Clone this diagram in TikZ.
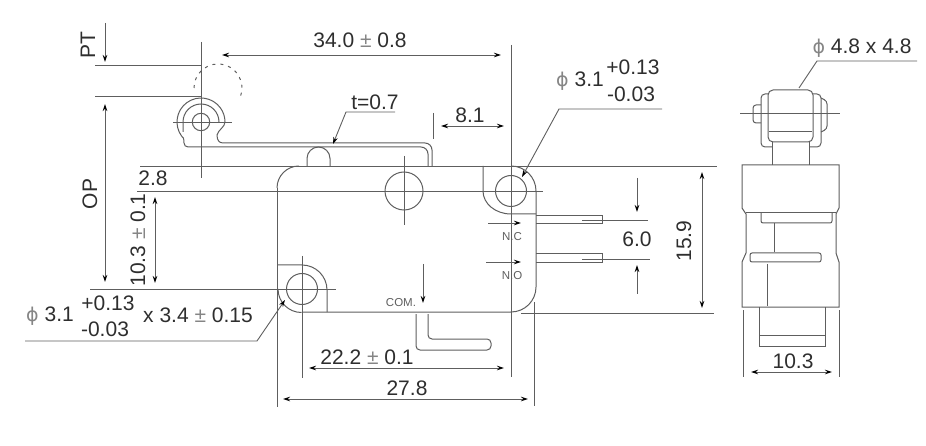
\documentclass[tikz,border=0pt]{standalone}
\usepackage{fontspec}
\setmainfont{Liberation Sans}
\newfontfamily\symbfont{DejaVu Sans}
\usetikzlibrary{arrows.meta}
\definecolor{inkline}{HTML}{5E5E5E}
\definecolor{inktext}{HTML}{2E2E2E}
\definecolor{inksymb}{HTML}{858585}
\newcommand{\plusminus}{\textcolor{inksymb}{±}}
\newcommand{\diam}{\textcolor{inksymb}{{\symbfont\fontsize{19}{19}\selectfont ϕ}}}
\tikzset{
  tipmark/.tip   = {Stealth[length=7pt,width=4.5pt,color=black]},
  part/.style    = {draw=inkline, line width=1pt},
  dimline/.style = {draw=inkline, line width=0.9pt},
  dimarrow/.style = {dimline, tipmark-tipmark},
  tiparrow/.style = {dimline, -tipmark},
  dimtext/.style = {text=inktext, inner sep=0pt, font=\fontsize{21}{23}\selectfont},
  pintext/.style = {text=inkline, inner sep=0pt, font=\fontsize{11.5}{13}\selectfont}
}
\begin{document}
\begin{tikzpicture}[x=1pt, y=-1pt]
  \useasboundingbox (0,0) rectangle (926,446);

  % front view, body
  \draw[part] (277,188) arc[start angle=180, end angle=270, radius=22];
  \draw[part] (511,166) arc[start angle=270, end angle=360, radius=25] -- (536,287)
    arc[start angle=0, end angle=90, radius=25] -- (302,312);
  \draw[part] (483,166) -- (483,191) arc[start angle=180, end angle=90, x radius=28, y radius=23] -- (536,214);
  \draw[part] (277,265) -- (302,265) arc[start angle=270, end angle=360, radius=25] -- (327,312);
  \draw[part] (278,289) arc[start angle=180, end angle=90, radius=23.5];
  \foreach \holex/\holey/\holer in {511/191/15.5, 302/289/15.5, 404/191/19}
    \draw[part] (\holex,\holey) circle (\holer);

  % plunger, lever and roller
  \draw[part] (307,166) -- (307,158.5) arc[start angle=180, end angle=360, radius=11.5] -- (330,166);
  \draw[part] (201,122) ++(144:24) arc[start angle=144, end angle=360, radius=24]
    .. controls (225,127) and (218,130) .. (217,135)
    .. controls (217,140) and (219,143) .. (223,143) -- (425,143)
    arc[start angle=270, end angle=360, radius=7] -- (432,166);
  \draw[part] (181.6,136.1) .. controls (183,137) and (184,138) .. (184,143)
    arc[start angle=180, end angle=90, radius=4] -- (421,147)
    arc[start angle=270, end angle=360, radius=7] -- (428,166);
  \draw[part] (183,132) -- (183,122) arc[start angle=180, end angle=360, radius=18];
  \draw[part] (201,122) circle (8.7);
  \draw[part, dash pattern=on 3pt off 5pt] (194,88) arc[start angle=180, end angle=380, radius=24];

  % terminals
  \draw[part] (536,216) -- (602,216) -- (602,224) -- (536,224);
  \draw[part] (536,254) -- (602,254) -- (602,263) -- (536,263);
  \draw[part, rounded corners=4pt] (416,314) -- (416,350) -- (491,350) -- (491,339) -- (428,339) -- (428,314);

  % centre and extension lines
  \draw[dimline] (201,42) -- (201,178);
  \draw[dimline] (173,122) -- (232,122);
  \draw[dimline] (95,65) -- (202,65);
  \draw[dimline] (95,96) -- (202,96);
  \draw[dimline] (140,166) -- (717,166);
  \draw[dimline] (137,191) -- (543,191);
  \draw[dimline] (90,289) -- (336,289);
  \draw[dimline] (511,45) -- (511,377);
  \draw[dimline] (277,188) -- (277,407);
  \draw[dimline] (302,256) -- (302,378);
  \draw[dimline] (404,156) -- (404,225);
  \draw[dimline] (534,302) -- (534,406);
  \draw[dimline] (521,313) -- (714,313);
  \draw[dimline] (433,113) -- (433,139);
  \draw[dimline] (582,220) -- (648,220);
  \draw[dimline] (582,259) -- (650,259);

  % dimensions
  \draw[tiparrow] (105,23) -- (105,62);
  \draw[dimarrow] (105,104) -- (105,282);
  \draw[dimarrow] (155,197) -- (155,283);
  \draw[dimarrow] (222,55) -- (501,55);
  \draw[dimarrow] (441,126) -- (504,126);
  \draw[dimarrow] (702,172) -- (702,308);
  \draw[dimarrow] (309,368) -- (504,368);
  \draw[dimarrow] (283,399) -- (528,399);
  \draw[tiparrow] (637,178) -- (637,212);
  \draw[tiparrow] (637,294) -- (637,265);
  \draw[tiparrow] (423,264) -- (423,303);
  \draw[tiparrow] (488,223) -- (521,223);
  \draw[tiparrow] (486,262) -- (521,262);

  % leaders
  \draw[tiparrow] (395,112) -- (346,112) -- (333,144);
  \draw[tiparrow] (662,109) -- (559,109) -- (522,177);
  \draw[tiparrow] (25,341) -- (257,341) -- (285,300);

  % side view
  \draw[part, rounded corners=5pt] (768,90) rectangle (813,142);
  \draw[part] (769,132) -- (812,132);
  \draw[part, rounded corners=4pt] (768,94) -- (761,94) -- (761,147) -- (772,147);
  \draw[part, rounded corners=4pt] (813,94) -- (821,94) -- (821,147) -- (809,147);
  \draw[part, rounded corners=3pt] (761,105) -- (753,105) -- (753,123) -- (761,123);
  \draw[part, rounded corners=3pt] (821,98) -- (827,101) -- (827,129) -- (821,132);
  \draw[part] (772,142) -- (772,165);
  \draw[part] (809,142) -- (809,165);
  \draw[part] (742,165) -- (839,165) -- (839,208) -- (836,214) -- (836,253) -- (839,262) -- (839,307)
    -- (742,307) -- (742,262) -- (746,253) -- (746,214) -- (742,208) -- cycle;
  \draw[part] (746,213) -- (836,213);
  \draw[part, rounded corners=2pt] (761,213) -- (761,223) -- (832,223) -- (832,213);
  \draw[part, rounded corners=2pt] (750,253) rectangle (821,262);
  \draw[part] (774,223) -- (774,252);
  \draw[part] (767,264) -- (767,306);
  \draw[part] (759,307) -- (759,346) -- (825,346) -- (825,307);
  \draw[part] (759,335) -- (825,335);
  \draw[dimline] (740,113) -- (840,113);
  \draw[dimline] (743,310) -- (743,377);
  \draw[dimline] (839,310) -- (839,377);
  \draw[dimarrow] (751,372) -- (832,372);
  \draw[dimline] (917,61) -- (817,61) -- (799,88);

  % labels
  \node[dimtext, rotate=90] (labelpt) at (88,45) {PT};
  \node[dimtext, rotate=90] (labelop) at (90,194) {OP};
  \node[dimtext, rotate=90] (labelthree) at (138,240) {10.3 \plusminus{} 0.1};
  \node[dimtext] (labeltop) at (360,40) {34.0 \plusminus{} 0.8};
  \node[dimtext] (labelt) at (375,102) {t=0.7};
  \node[dimtext] (labeleight) at (470,115) {8.1};
  \node[dimtext] (labeltwo) at (153,178) {2.8};
  \node[dimtext] (labelhole) at (580,81) {\diam{} 3.1};
  \node[dimtext] (labelup) at (633,67) {+0.13};
  \node[dimtext] (labeldown) at (631,94) {-0.03};
  \node[dimtext] (labelholeb) at (50,316) {\diam{} 3.1};
  \node[dimtext] (labelupb) at (108,303) {+0.13};
  \node[dimtext] (labeldownb) at (105,329) {-0.03};
  \node[dimtext] (labelslot) at (198,315) {x 3.4 \plusminus{} 0.15};
  \node[dimtext] (labelsix) at (637,239) {6.0};
  \node[dimtext, rotate=90] (labelheight) at (684,241) {15.9};
  \node[dimtext] (labelpitch) at (367,357) {22.2 \plusminus{} 0.1};
  \node[dimtext] (labellength) at (407,388) {27.8};
  \node[dimtext] (labelroller) at (862,48) {\diam{} 4.8 x 4.8};
  \node[dimtext] (labelwidth) at (793,361) {10.3};
  \node[pintext] (labelnc) at (512,237) {N.C};
  \node[pintext] (labelno) at (512,276) {N.O};
  \node[pintext] (labelcom) at (401,303) {COM.};
\end{tikzpicture}
\end{document}
